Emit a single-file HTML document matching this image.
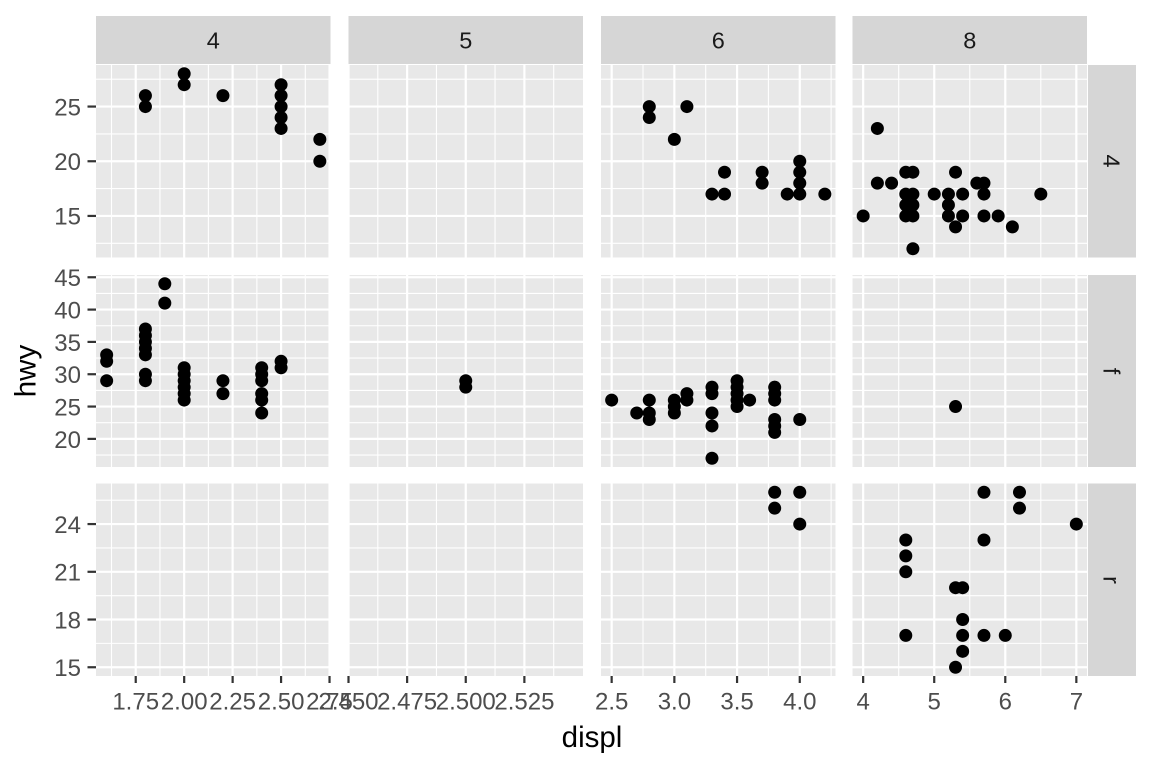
<!DOCTYPE html>
<html><head><meta charset="utf-8"><style>
html,body{margin:0;padding:0;background:#fff;}
svg{display:block;font-family:"Liberation Sans",Arial,sans-serif;}
.yt{font-size:24px;fill:#4d4d4d;text-anchor:end;}
.xt{font-size:24px;fill:#4d4d4d;text-anchor:middle;}
.st{font-size:23.5px;fill:#1a1a1a;text-anchor:middle;}
</style></head><body>
<svg id="s" width="1152" height="768" viewBox="0 0 1152 768" xmlns="http://www.w3.org/2000/svg">
<rect width="1152" height="768" fill="#fff"/>
<g id="panels"></g>
<rect x="96" y="16" width="234.5" height="48" fill="#d6d6d6"/>
<rect x="348.5" y="16" width="234.5" height="48" fill="#d6d6d6"/>
<rect x="601" y="16" width="234.5" height="48" fill="#d6d6d6"/>
<rect x="852.5" y="16" width="234.5" height="48" fill="#d6d6d6"/>
<text class="st" x="213.25" y="48.5">4</text>
<text class="st" x="465.75" y="48.5">5</text>
<text class="st" x="718.25" y="48.5">6</text>
<text class="st" x="969.75" y="48.5">8</text>
<rect x="1088" y="65" width="48" height="192.5" fill="#d6d6d6"/>
<rect x="1088" y="275" width="48" height="192" fill="#d6d6d6"/>
<rect x="1088" y="483.5" width="48" height="192.5" fill="#d6d6d6"/>
<text class="st" transform="translate(1103.5,161) rotate(90)">4</text>
<text class="st" transform="translate(1103.5,371) rotate(90)">f</text>
<text class="st" transform="translate(1103.5,580) rotate(90)">r</text>
<text class="yt" x="81" y="115.3">25</text>
<text class="yt" x="81" y="170">20</text>
<text class="yt" x="81" y="224.7">15</text>
<text class="yt" x="81" y="286">45</text>
<text class="yt" x="81" y="318.4">40</text>
<text class="yt" x="81" y="350.8">35</text>
<text class="yt" x="81" y="383.2">30</text>
<text class="yt" x="81" y="415.6">25</text>
<text class="yt" x="81" y="448">20</text>
<text class="yt" x="81" y="532.8">24</text>
<text class="yt" x="81" y="580.5">21</text>
<text class="yt" x="81" y="628.3">18</text>
<text class="yt" x="81" y="676">15</text>
<text class="xt" x="135.7" y="709.5">1.75</text>
<text class="xt" x="184.2" y="709.5">2.00</text>
<text class="xt" x="232.6" y="709.5">2.25</text>
<text class="xt" x="281.1" y="709.5">2.50</text>
<text class="xt" x="329.5" y="709.5">2.75</text>
<text class="xt" x="348.5" y="709.5">2.450</text>
<text class="xt" x="407.1" y="709.5">2.475</text>
<text class="xt" x="465.75" y="709.5">2.500</text>
<text class="xt" x="524.4" y="709.5">2.525</text>
<text class="xt" x="611.7" y="709.5">2.5</text>
<text class="xt" x="674.4" y="709.5">3.0</text>
<text class="xt" x="737.1" y="709.5">3.5</text>
<text class="xt" x="799.8" y="709.5">4.0</text>
<text class="xt" x="863.2" y="709.5">4</text>
<text class="xt" x="934.2" y="709.5">5</text>
<text class="xt" x="1005.3" y="709.5">6</text>
<text class="xt" x="1076.4" y="709.5">7</text>
<text x="592" y="747" font-size="29.5px" fill="#000" text-anchor="middle">displ</text>
<text transform="translate(35.5,371) rotate(-90)" font-size="29.5px" fill="#000" text-anchor="middle">hwy</text>
</svg>
<script>
(function(){
var NS="http://www.w3.org/2000/svg",g=document.getElementById("panels");
function el(t,a){var e=document.createElementNS(NS,t);for(var k in a)e.setAttribute(k,a[k]);g.appendChild(e);return e;}
var W=234.5;
var cols=[
{l:96,a:1.545,b:2.755,M:[1.75,2,2.25,2.5,2.75],m:[1.625,1.875,2.125,2.375,2.625]},
{l:348.5,a:2.45,b:2.55,M:[2.45,2.475,2.5,2.525],m:[2.4625,2.4875,2.5125,2.5375]},
{l:601,a:2.415,b:4.285,M:[2.5,3,3.5,4],m:[2.75,3.25,3.75,4.25]},
{l:852.5,a:3.85,b:7.15,M:[4,5,6,7],m:[4.5,5.5,6.5]}];
var rows=[
{t:65,h:192.5,a:11.2,b:28.8,M:[15,20,25],m:[12.5,17.5,22.5,27.5]},
{t:275,h:192,a:15.65,b:45.35,M:[20,25,30,35,40,45],m:[17.5,22.5,27.5,32.5,37.5,42.5]},
{t:483.5,h:192.5,a:14.45,b:26.55,M:[15,18,21,24],m:[16.5,19.5,22.5,25.5]}];
function X(c,v){return c.l+(v-c.a)/(c.b-c.a)*W;}
function Y(r,v){return r.t+(r.b-v)/(r.b-r.a)*r.h;}
var data={
"0,0":[[1.8,26],[1.8,25],[2,28],[2,27],[2.2,26],[2.5,27],[2.5,26],[2.5,25],[2.5,24],[2.5,23],[2.7,22],[2.7,20]],
"0,2":[[2.8,25],[2.8,24],[3.1,25],[3,22],[3.3,17],[3.4,19],[3.4,17],[3.7,19],[3.7,18],[3.9,17],[4,20],[4,19],[4,18],[4,17],[4.2,17]],
"0,3":[[4.2,23],[4.6,19],[4.7,19],[5.3,19],[4.2,18],[4.4,18],[5.6,18],[5.7,18],[4.6,17],[4.7,17],[5,17],[5.2,17],[5.4,17],[5.7,17],[6.5,17],[4.6,16],[4.7,16],[5.2,16],[4,15],[4.6,15],[4.7,15],[5.2,15],[5.4,15],[5.7,15],[5.9,15],[5.3,14],[6.1,14],[4.7,12]],
"1,0":[[1.9,44],[1.9,41],[1.6,33],[1.6,32],[1.6,29],[1.8,37],[1.8,36],[1.8,35],[1.8,34],[1.8,33],[1.8,30],[1.8,29],[2,31],[2,30],[2,29],[2,28],[2,27],[2,26],[2.2,29],[2.2,27],[2.4,31],[2.4,30],[2.4,29],[2.4,27],[2.4,26],[2.4,24],[2.5,32],[2.5,31]],
"1,1":[[2.5,29],[2.5,28]],
"1,2":[[2.5,26],[2.7,24],[2.8,26],[2.8,24],[2.8,23],[3,26],[3,25],[3,24],[3.1,27],[3.1,26],[3.3,28],[3.3,27],[3.3,24],[3.3,22],[3.3,17],[3.5,29],[3.5,28],[3.5,27],[3.5,26],[3.5,25],[3.6,26],[3.8,28],[3.8,27],[3.8,26],[3.8,23],[3.8,22],[3.8,21],[4,23]],
"1,3":[[5.3,25]],
"2,2":[[3.8,26],[3.8,25],[4,26],[4,24]],
"2,3":[[5.7,26],[6.2,26],[6.2,25],[7,24],[4.6,23],[4.6,22],[4.6,21],[5.7,23],[5.3,20],[5.4,20],[5.4,18],[4.6,17],[5.4,17],[5.7,17],[6,17],[5.4,16],[5.3,15]]};
for(var i=0;i<3;i++)for(var j=0;j<4;j++){
 var r=rows[i],c=cols[j];
 el("rect",{x:c.l,y:r.t,width:W,height:r.h,fill:"#e8e8e8"});
 r.m.forEach(function(v){var y=Y(r,v);if(y>r.t&&y<r.t+r.h)el("line",{x1:c.l,x2:c.l+W,y1:y,y2:y,stroke:"#fff","stroke-width":1.1});});
 c.m.forEach(function(v){var x=X(c,v);if(x>c.l&&x<c.l+W)el("line",{y1:r.t,y2:r.t+r.h,x1:x,x2:x,stroke:"#fff","stroke-width":1.1});});
 r.M.forEach(function(v){var y=Y(r,v);el("line",{x1:c.l,x2:c.l+W,y1:y,y2:y,stroke:"#fff","stroke-width":2.2});});
 c.M.forEach(function(v){var x=X(c,v);el("line",{y1:r.t,y2:r.t+r.h,x1:x,x2:x,stroke:"#fff","stroke-width":2.2});});
 if(j==0)r.M.forEach(function(v){var y=Y(r,v);el("line",{x1:87.5,x2:96,y1:y,y2:y,stroke:"#333","stroke-width":2.2});});
 if(i==2)c.M.forEach(function(v){var x=X(c,v);el("line",{y1:676,y2:683,x1:x,x2:x,stroke:"#333","stroke-width":2.2});});
 (data[i+","+j]||[]).forEach(function(p){el("circle",{cx:X(c,p[0]),cy:Y(r,p[1]),r:6.5,fill:"#000"});});
}
})();
</script>
</body></html>
